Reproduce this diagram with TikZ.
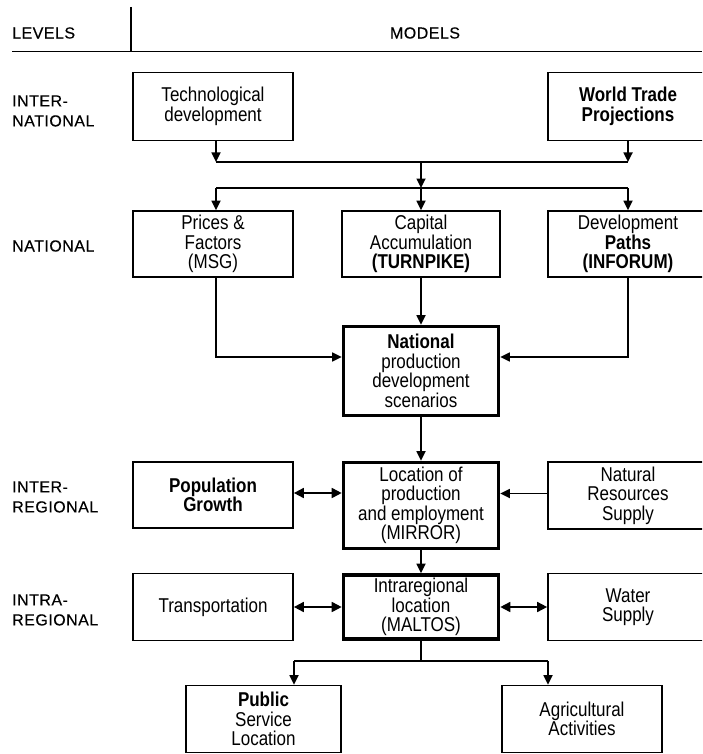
\documentclass[tikz,border=0pt]{standalone}
\usepackage{fontspec}
\setmainfont{Liberation Sans}[FakeStretch=0.85]
\newfontfamily\lblfont{Liberation Sans}[LetterSpace=3,FakeBold=0.3]
\usetikzlibrary{arrows.meta,calc}
\tikzset{
  every node/.style={font=\fontsize{20}{19.5}\selectfont},
  box/.style={draw, line width=1.7pt, align=center, inner sep=0pt, minimum width=160pt},
  mainbox/.style={draw, line width=3.6pt, align=center, inner sep=0pt, minimum width=155pt},
  lvl/.style={anchor=west, align=left, inner sep=0pt, font=\lblfont\fontsize{16}{20}\selectfont},
  conn/.style={line width=1.7pt},
  arr/.style={line width=1.7pt, -{Triangle[length=9.5pt,width=9pt]}},
  dbl/.style={line width=1.7pt, {Triangle[length=10pt,width=10pt]}-{Triangle[length=10pt,width=10pt]}}
}
\begin{document}
\begin{tikzpicture}[x=1pt,y=-1pt]
\useasboundingbox (0,0) rectangle (702,754);
\begin{scope}
\clip (0,0) rectangle (702,754);
% header
\draw[conn] (12,51.5) -- (702,51.5);
\draw[conn] (131,7) -- (131,51.5);
\node[lvl] (hlev) at (12,33) {LEVELS};
\node[lvl, anchor=center] (hmod) at (425,33) {MODELS};
% level labels
\node[lvl] (l1) at (12,111) {INTER-\\NATIONAL};
\node[lvl] (l2) at (12,246) {NATIONAL};
\node[lvl] (l3) at (12,497) {INTER-\\REGIONAL};
\node[lvl] (l4) at (12,610) {INTRA-\\REGIONAL};
% international
\node[box, minimum height=68pt] (tech) at (213,106.5) {Technological\\development};
\node[box, minimum height=68pt] (world) at (628,106.5) {\bfseries World Trade\\\bfseries Projections};
% national
\node[box, minimum height=66pt] (prices) at (213,244) {Prices \&\\Factors\\(MSG)};
\node[box, minimum width=158pt, minimum height=66pt] (capital) at (421,244) {Capital\\Accumulation\\\bfseries (TURNPIKE)};
\node[box, minimum height=66pt] (dev) at (628,244) {Development\\\bfseries Paths\\\bfseries (INFORUM)};
\node[mainbox, minimum height=89pt] (natl) at (421,371) {\bfseries National\\production\\development\\scenarios};
% interregional
\node[box, minimum height=66pt] (pop) at (213,495) {\bfseries Population\\\bfseries Growth};
\node[mainbox, minimum height=86pt] (mirror) at (421,505.5) {Location of\\production\\and employment\\(MIRROR)};
\node[box, minimum height=67pt] (natres) at (628,495.5) {Natural\\Resources\\Supply};
% intraregional
\node[box, minimum height=67pt] (trans) at (213,607) {Transportation};
\node[mainbox, minimum height=64pt] (maltos) at (421,607) {Intraregional\\location\\(MALTOS)};
\node[box, minimum height=67pt] (water) at (628,607) {Water\\Supply};
% bottom
\node[box, minimum width=155pt, minimum height=67pt] (public) at (263.5,719) {\bfseries Public\\Service\\Location};
\node[box, minimum height=67pt] (agri) at (582,719) {Agricultural\\Activities};
% junction coordinates
\coordinate (j1) at (421,162);
\coordinate (j2) at (421,188);
\coordinate (j3) at (421,661);
\coordinate (pa) at (294,661);
\coordinate (aa) at (548,661);
% connectors
\draw[arr] ([xshift=3pt]tech.south) -- ([xshift=3pt]tech.south |- j1);
\draw[arr] (world.south) -- (world.south |- j1);
\draw[conn] ([xshift=3pt]tech.south |- j1) -- (world.south |- j1);
\draw[arr] (j1) -- (j2);
\draw[conn] ([xshift=3pt]prices.north |- j2) -- (dev.north |- j2);
\draw[arr] ([xshift=3pt]prices.north |- j2) -- ([xshift=3pt]prices.north);
\draw[arr] (j2) -- (capital.north);
\draw[arr] (dev.north |- j2) -- (dev.north);
\draw[arr] ([xshift=3pt]prices.south) |- ([yshift=14pt]natl.west);
\draw[arr] (capital.south) -- (natl.north);
\draw[arr] (dev.south) |- ([yshift=14pt]natl.east);
\draw[arr] (natl.south) -- (mirror.north);
\draw[dbl] ([yshift=2pt]pop.east) -- ([yshift=2pt]pop.east -| mirror.west);
\draw[arr] ([yshift=2pt]natres.west) -- ([yshift=2pt]natres.west -| mirror.east);
\draw[arr] (mirror.south) -- (maltos.north);
\draw[dbl] (trans.east) -- (trans.east -| maltos.west);
\draw[dbl] (water.west) -- (water.west -| maltos.east);
\draw[conn] (maltos.south) -- (j3);
\draw[conn] (pa) -- (aa);
\draw[arr] (pa) -- (pa |- public.north);
\draw[arr] (aa) -- (aa |- agri.north);
\end{scope}
\end{tikzpicture}
\end{document}
